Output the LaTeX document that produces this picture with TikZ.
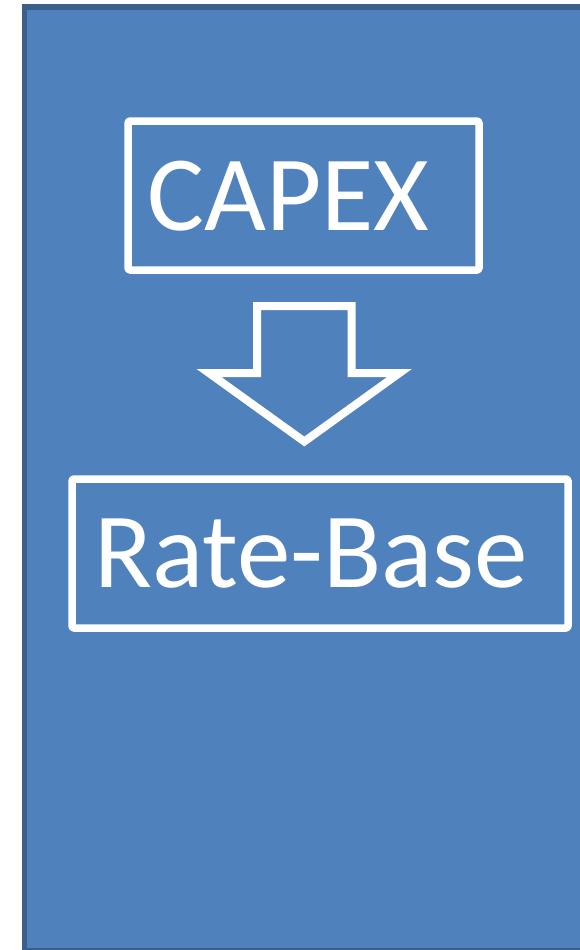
\documentclass[tikz,border=0pt]{standalone}
\usepackage{fontspec}
\setmainfont{Carlito}
\definecolor{panelblue}{HTML}{4F81BD}
\definecolor{paneledge}{HTML}{3A5F8B}
\begin{document}
\begin{tikzpicture}[x=1pt,y=-1pt,
  outlinebox/.style={draw=white,line width=7.5pt,line join=round,rounded corners=1.5pt,inner sep=0pt},
  boxtext/.style={text=white,font=\fontsize{107}{120}\selectfont,inner sep=0pt,anchor=base west},
  blockarrow/.style={draw=white,line width=8pt,line join=miter}]
  \useasboundingbox (0,0) rectangle (580,950);
  \clip (0,0) rectangle (580,950);
  % panel
  \draw[fill=panelblue,draw=paneledge,line width=5.5pt] (24.5,7) rectangle (590,950.5);
  % boxes
  \node[outlinebox,minimum width=351pt,minimum height=149pt] (capex) at (303.5,195.5) {};
  \node[boxtext] (capexlabel) at (147,230.5) {CAPEX};
  \node[outlinebox,minimum width=496pt,minimum height=149pt] (ratebase) at (320,553.5) {};
  \node[boxtext] (ratebaselabel) at (94,587.5) {Rate-Base};
  % hollow block arrow between the boxes
  \draw[blockarrow] (257,306) -- (351.5,306) -- (351.5,373) -- (399.5,373)
    -- (304.3,441.5) -- (209,373) -- (257,373) -- cycle;
\end{tikzpicture}
\end{document}
